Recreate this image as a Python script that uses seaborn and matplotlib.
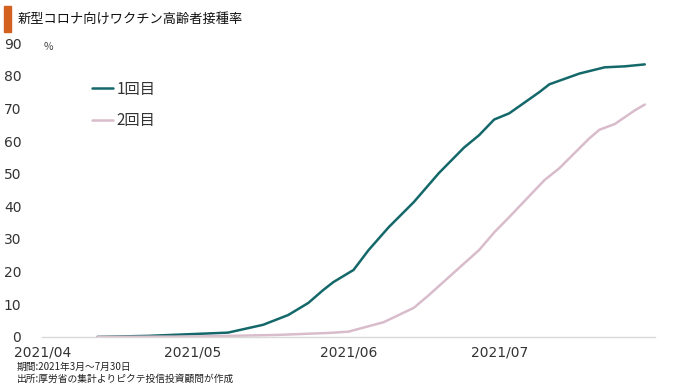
import matplotlib
matplotlib.use("Agg")
import matplotlib.dates as mdates
import matplotlib.pyplot as plt
import pandas as pd
import seaborn as sns
from matplotlib.patches import Rectangle

# 1回目 (first dose)
first_dates = [
    "2021-04-12", "2021-04-22", "2021-04-30", "2021-05-08", "2021-05-15",
    "2021-05-20", "2021-05-24", "2021-05-27", "2021-05-29", "2021-06-02",
    "2021-06-05", "2021-06-09", "2021-06-14", "2021-06-19", "2021-06-24",
    "2021-06-27", "2021-06-30", "2021-07-03", "2021-07-09", "2021-07-11",
    "2021-07-17", "2021-07-22", "2021-07-26", "2021-07-30",
]
first_values = [
    0.0, 0.3, 0.8, 1.3, 3.7,
    6.7, 10.4, 14.4, 16.8, 20.5,
    26.6, 33.6, 41.3, 50.2, 58.0,
    61.8, 66.6, 68.5, 75.0, 77.4,
    80.7, 82.6, 82.9, 83.5,
]

# 2回目 (second dose)
second_dates = [
    "2021-04-12", "2021-05-01", "2021-05-18", "2021-05-28", "2021-06-01",
    "2021-06-08", "2021-06-11", "2021-06-14", "2021-06-17", "2021-06-23",
    "2021-06-27", "2021-06-30", "2021-07-03", "2021-07-10", "2021-07-13",
    "2021-07-19", "2021-07-21", "2021-07-24", "2021-07-28", "2021-07-30",
]
second_values = [
    0.0, 0.1, 0.6, 1.2, 1.6,
    4.5, 6.7, 8.9, 12.8, 21.1,
    26.6, 32.0, 36.7, 48.0, 51.7,
    60.9, 63.5, 65.2, 69.4, 71.2,
]

series_names = ["1回目", "2回目"]
colors = ["#14686a", "#d9bccb"]

df = pd.concat([
    pd.DataFrame({"date": pd.to_datetime(first_dates), "rate": first_values, "dose": series_names[0]}),
    pd.DataFrame({"date": pd.to_datetime(second_dates), "rate": second_values, "dose": series_names[1]}),
])

sns.set_theme(style="white")
plt.rcParams["font.family"] = ["Noto Sans CJK JP", "DejaVu Sans"]

fig = plt.figure(figsize=(6.8, 3.89), dpi=100)
ax = fig.add_axes([0.062, 0.134, 0.901, 0.755])

sns.lineplot(data=df, x="date", y="rate", hue="dose", palette=colors,
             linewidth=1.8, ax=ax)

ax.set_xlim(pd.Timestamp("2021-04-01"), pd.Timestamp("2021-08-01"))
ax.set_ylim(0, 90)
ax.set_yticks(range(0, 91, 10))
ax.xaxis.set_major_locator(mdates.MonthLocator(bymonth=[4, 5, 6, 7]))
ax.xaxis.set_major_formatter(mdates.DateFormatter("%Y/%m"))
ax.set_xlabel("")
ax.set_ylabel("")
ax.tick_params(axis="y", length=0, pad=15, labelsize=10, labelcolor="#333333",
               labelfontfamily="DejaVu Sans")
ax.tick_params(axis="x", length=0, pad=6, labelsize=10, labelcolor="#333333",
               labelfontfamily="DejaVu Sans")
for side in ["top", "right", "left"]:
    ax.spines[side].set_visible(False)
ax.spines["bottom"].set_color("#d9d9d9")
ax.spines["bottom"].set_linewidth(1.0)

leg = ax.legend(loc="upper left", bbox_to_anchor=(0.059, 0.919), frameon=False,
                fontsize=11, labelspacing=0.95, handlelength=1.4, handletextpad=0.2)
for t in leg.get_texts():
    t.set_color("#333333")

# title with orange marker
fig.patches.append(Rectangle((4 / 680, 1 - 32 / 389), 7 / 680, 26 / 389,
                             transform=fig.transFigure, color="#d2601e"))
fig.text(18 / 680, 1 - 19 / 389, "新型コロナ向けワクチン高齢者接種率",
         fontsize=9.5, color="#111111", va="center")
fig.text(44 / 680, 1 - 47 / 389, "%", fontsize=7.5, color="#444444", va="center")

fig.text(17 / 680, 1 - 367 / 389, "期間:2021年3月～7月30日", fontsize=7, color="#222222", va="center")
fig.text(17 / 680, 1 - 379 / 389, "出所:厚労省の集計よりピクテ投信投資顧問が作成",
         fontsize=7, color="#222222", va="center")

fig.savefig("out.png", dpi=100)
